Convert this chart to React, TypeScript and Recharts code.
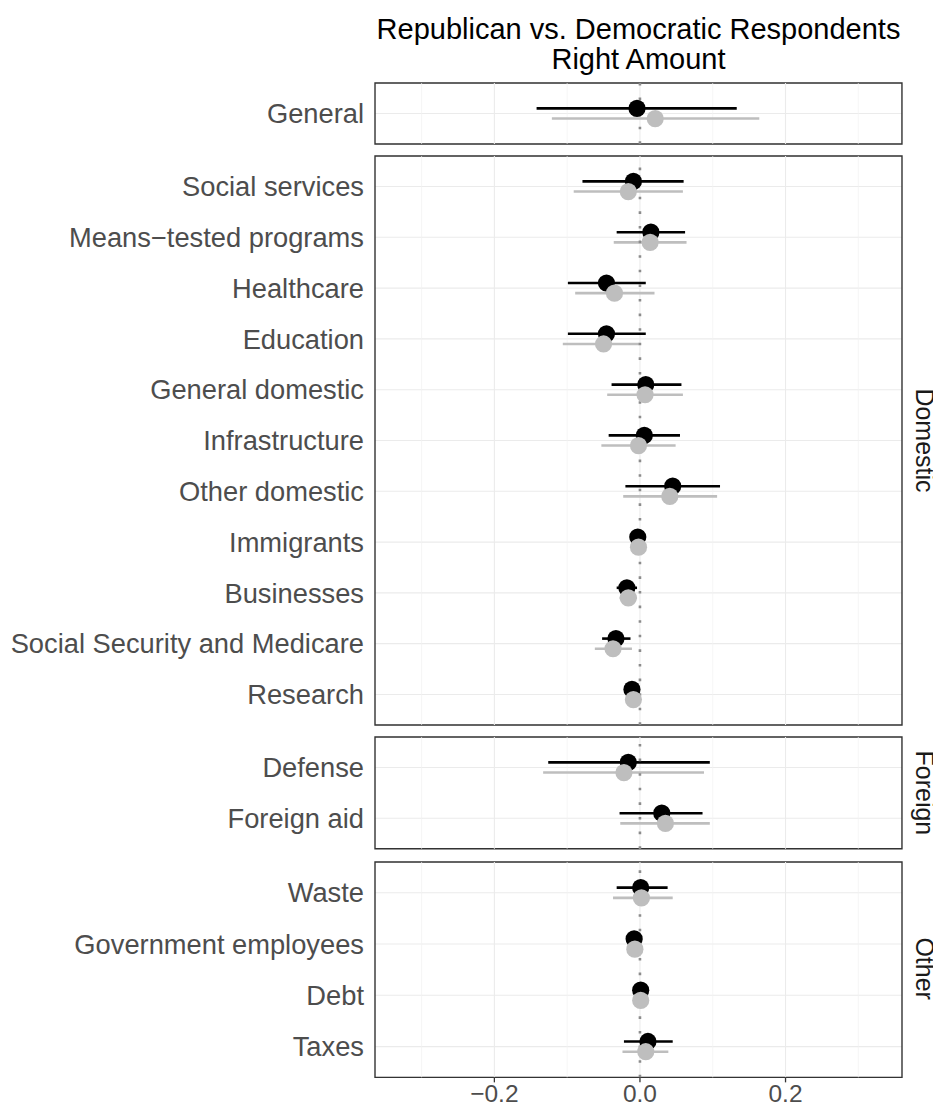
import React from "react";
import {
  CartesianGrid,
  ErrorBar,
  ReferenceArea,
  ReferenceLine,
  Scatter,
  ScatterChart,
  XAxis,
  YAxis,
} from "recharts";

const categories = [
  "General",
  "Social services",
  "Means\u2212tested programs",
  "Healthcare",
  "Education",
  "General domestic",
  "Infrastructure",
  "Other domestic",
  "Immigrants",
  "Businesses",
  "Social Security and Medicare",
  "Research",
  "Defense",
  "Foreign aid",
  "Waste",
  "Government employees",
  "Debt",
  "Taxes",
];

const panelOf = [
  "General",
  "Domestic", "Domestic", "Domestic", "Domestic", "Domestic", "Domestic",
  "Domestic", "Domestic", "Domestic", "Domestic", "Domestic",
  "Foreign", "Foreign",
  "Other", "Other", "Other", "Other",
];

// Republican respondents (black)
const repEstimate = [-0.004, -0.009, 0.015, -0.046, -0.046, 0.008, 0.006, 0.045, -0.003, -0.018, -0.033, -0.011, -0.016, 0.030, 0.001, -0.008, 0.001, 0.011];
const repLower = [-0.142, -0.079, -0.032, -0.099, -0.099, -0.039, -0.043, -0.020, -0.009, -0.032, -0.052, -0.019, -0.126, -0.028, -0.032, -0.015, -0.004, -0.022];
const repUpper = [0.133, 0.060, 0.062, 0.008, 0.008, 0.057, 0.055, 0.110, 0.003, -0.004, -0.013, -0.003, 0.096, 0.086, 0.038, -0.001, 0.006, 0.045];

// Democratic respondents (grey)
const demEstimate = [0.021, -0.016, 0.014, -0.035, -0.050, 0.007, -0.002, 0.041, -0.002, -0.016, -0.037, -0.009, -0.022, 0.035, 0.002, -0.007, 0.001, 0.008];
const demLower = [-0.121, -0.091, -0.036, -0.089, -0.106, -0.045, -0.053, -0.023, -0.008, -0.028, -0.062, -0.017, -0.133, -0.027, -0.037, -0.014, -0.004, -0.024];
const demUpper = [0.164, 0.059, 0.064, 0.020, -0.001, 0.059, 0.049, 0.106, 0.004, -0.004, -0.011, -0.001, 0.088, 0.096, 0.045, 0.000, 0.006, 0.039];

const majorTicks = [-0.2, 0, 0.2];
const minorTicks = [-0.3, -0.1, 0.1, 0.3];

const FONT = '"Liberation Sans", Arial, Helvetica, sans-serif';
const X_DOMAIN: [number, number] = [-0.364, 0.36];
const ROW = 50.8;
const DODGE = 0.1;
const LABEL_W = 367;
const PLOT_W = 527;
const PAD = 2;
const STRIP_W = 40;

const panels = [
  { name: "General", top: 83, strip: "" },
  { name: "Domestic", top: 156, strip: "Domestic" },
  { name: "Foreign", top: 737, strip: "Foreign" },
  { name: "Other", top: 862, strip: "Other" },
];

const dot = (fill: string) => (props: any) =>
  <circle cx={props.cx} cy={props.cy} r={8.6} fill={fill} />;

const fmtTick = (v: number) =>
  v === 0 ? "0.0" : v < 0 ? `\u2212${Math.abs(v).toFixed(1)}` : v.toFixed(1);

function Facet({ name, showAxis }: { name: string; showAxis: boolean }) {
  const rows = categories.map((_, i) => i).filter((i) => panelOf[i] === name);
  const n = rows.length;
  const rep = rows.map((k, j) => ({
    x: repEstimate[k],
    y: j - DODGE,
    err: [repEstimate[k] - repLower[k], repUpper[k] - repEstimate[k]],
  }));
  const dem = rows.map((k, j) => ({
    x: demEstimate[k],
    y: j + DODGE,
    err: [demEstimate[k] - demLower[k], demUpper[k] - demEstimate[k]],
  }));
  const plotH = (n + 0.2) * ROW;
  const axisH = showAxis ? 34 : 0;

  return (
    <ScatterChart
      width={LABEL_W + PLOT_W + PAD}
      height={plotH + PAD * 2 + axisH}
      margin={{ top: PAD, right: PAD, bottom: showAxis ? 0 : PAD, left: 0 }}
    >
      <CartesianGrid vertical={false} stroke="#EBEBEB" strokeWidth={1.1} />
      {minorTicks.map((v) => (
        <ReferenceLine key={`m${v}`} x={v} stroke="#F2F2F2" strokeWidth={0.7} />
      ))}
      {majorTicks.map((v) => (
        <ReferenceLine key={`M${v}`} x={v} stroke="#EBEBEB" strokeWidth={1.1} />
      ))}
      <XAxis
        type="number"
        dataKey="x"
        domain={X_DOMAIN}
        ticks={majorTicks}
        hide={!showAxis}
        height={axisH}
        axisLine={false}
        tickLine={{ stroke: "#333333", strokeWidth: 1.3 }}
        tickSize={5}
        tickMargin={2}
        tick={{ fill: "#4D4D4D", fontSize: 24.5 }}
        tickFormatter={fmtTick}
        allowDataOverflow
      />
      <YAxis
        type="number"
        dataKey="y"
        domain={[-0.6, n - 0.4]}
        reversed
        ticks={rows.map((_, j) => j)}
        interval={0}
        width={LABEL_W}
        axisLine={false}
        tickLine={false}
        tickSize={7}
        tickMargin={4}
        tick={{ fill: "#4D4D4D", fontSize: 27.3 }}
        tickFormatter={(v: number) => categories[rows[v]] ?? ""}
        allowDataOverflow
      />
      <Scatter data={rep} shape={dot("#000000")} isAnimationActive={false}>
        <ErrorBar dataKey="err" direction="x" width={0} stroke="#000000" strokeWidth={2.6} />
      </Scatter>
      <Scatter data={dem} shape={dot("#BEBEBE")} isAnimationActive={false}>
        <ErrorBar dataKey="err" direction="x" width={0} stroke="#BEBEBE" strokeWidth={2.6} />
      </Scatter>
      <ReferenceLine x={0} stroke="#8C8C8C" strokeWidth={2.6} strokeDasharray="2.6 12" />
      <ReferenceArea
        x1={X_DOMAIN[0]}
        x2={X_DOMAIN[1]}
        y1={-0.6}
        y2={n - 0.4}
        fill="none"
        stroke="#333333"
        strokeWidth={1.4}
        fillOpacity={0}
      />
    </ScatterChart>
  );
}

// facet label to the right of a panel, rotated to read top-down
function Strip({ label, height }: { label: string; height: number }) {
  return (
    <svg width={STRIP_W} height={height} style={{ display: "block", overflow: "visible" }}>
      <text
        transform={`translate(${STRIP_W / 2}, ${height / 2}) rotate(90)`}
        textAnchor="middle"
        dominantBaseline="central"
        fontSize={25}
        fill="#1A1A1A"
      >
        {label}
      </text>
    </svg>
  );
}

export default function App() {
  return (
    <div style={{ position: "relative", width: 925, height: 1097, fontFamily: FONT }}>
      <div
        style={{
          position: "absolute",
          left: 375 - 8 - 20,
          width: PLOT_W + 40,
          top: 14 - 8,
          textAlign: "center",
          fontSize: 29,
          lineHeight: "30px",
          color: "#000",
        }}
      >
        Republican vs. Democratic Respondents
        <br />
        Right Amount
      </div>
      {panels.map((p, i) => {
        const n = panelOf.filter((x) => x === p.name).length;
        const plotH = (n + 0.2) * ROW;
        return (
          <React.Fragment key={p.name}>
            <div style={{ position: "absolute", left: 0, top: p.top - 8 - PAD }}>
              <Facet name={p.name} showAxis={i === panels.length - 1} />
            </div>
            {p.strip && (
              <div style={{ position: "absolute", left: 925 - 8 - STRIP_W / 2, top: p.top - 8 }}>
                <Strip label={p.strip} height={plotH} />
              </div>
            )}
          </React.Fragment>
        );
      })}
    </div>
  );
}
